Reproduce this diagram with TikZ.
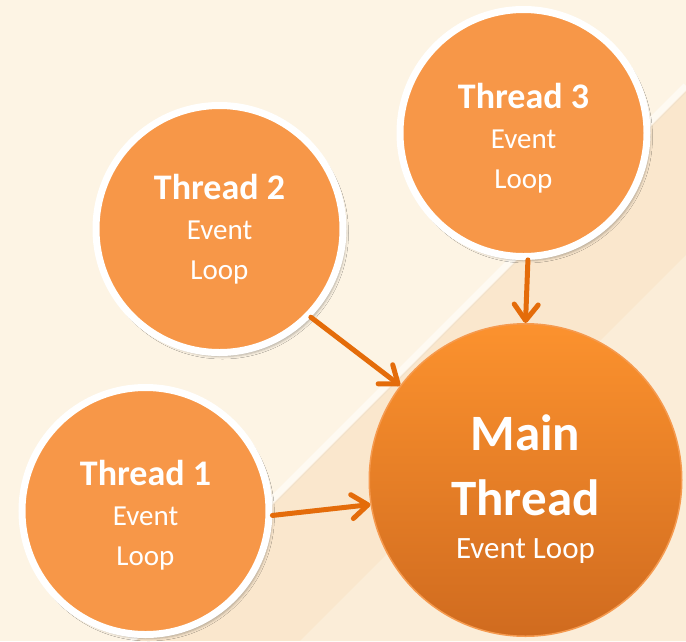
\documentclass[tikz,border=0pt]{standalone}
\usepackage{fontspec}
\setmainfont{Carlito}
\usetikzlibrary{arrows.meta,shadows.blur}
\definecolor{bgcream}{HTML}{FDF4E4}
\definecolor{bgpeach}{HTML}{F9DDBB}
\definecolor{thrfill}{HTML}{F79748}
\definecolor{arrowc}{HTML}{E46C0A}
\definecolor{maintop}{HTML}{FC922E}
\definecolor{mainbot}{HTML}{D06B1F}
\definecolor{mainedge}{HTML}{F59A4F}
\begin{document}
\begin{tikzpicture}[x=1pt,y=-1pt,
  thr/.style={circle, fill=thrfill, draw=white, line width=7pt,
    minimum size=247pt, inner sep=0pt, text=white, align=center,
    font=\fontsize{29}{40}\selectfont,
    blur shadow={shadow xshift=3pt, shadow yshift=-4pt,
      shadow blur radius=2.5pt, shadow opacity=30}},
  mainc/.style={circle, top color=maintop, bottom color=mainbot,
    draw=mainedge, line width=1.5pt, minimum size=312.5pt, inner sep=0pt},
  maintext/.style={text=white, align=center, inner sep=0pt,
    font=\fontsize{31}{43}\selectfont},
  flow/.style={draw=arrowc, line width=5pt, line cap=round,
    -{Straight Barb[length=16pt, width=24pt, line cap=round, line join=round]}}
]
\useasboundingbox (0,0) rectangle (686,641);
% background
\fill[bgcream] (0,0) rectangle (686,641);
\fill[bgpeach, opacity=0.55] (135,641) -- (686,90) -- (686,641) -- cycle;
\fill[bgcream, opacity=0.5] (300,641) -- (686,255) -- (686,641) -- cycle;
\draw[white, line width=7pt, opacity=0.55] (131,641) -- (686,86);
\draw[black!25, line width=0.8pt, opacity=0.15] (137,641) -- (686,92);

% nodes
\node[thr] (t3) at (523.5,133) {{\bfseries\fontsize{36}{40}\selectfont\rule{0pt}{35pt}Thread 3}\\Event\\Loop};
\node[thr] (t2) at (219.5,229) {{\bfseries\fontsize{36}{40}\selectfont Thread 2}\\Event\\Loop};
\node[thr] (t1) at (145.5,511) {{\bfseries\fontsize{36}{40}\selectfont\rule{0pt}{33pt}Thread 1}\\Event\\Loop};
\node[mainc] (main) at (525.5,480) {};
\node[maintext] (mainlabel) at (525.5,489.5)
  {{\bfseries\fontsize{51}{43}\selectfont Main}\\[22pt]{\bfseries\fontsize{51}{43}\selectfont Thread}\\Event Loop};

% connectors
\draw[flow] (t3.-88) -- (main.90);
\draw[flow] (t2.-44) -- (main.143);
\draw[flow] (t1.-2) -- (main.-171);
\end{tikzpicture}
\end{document}
